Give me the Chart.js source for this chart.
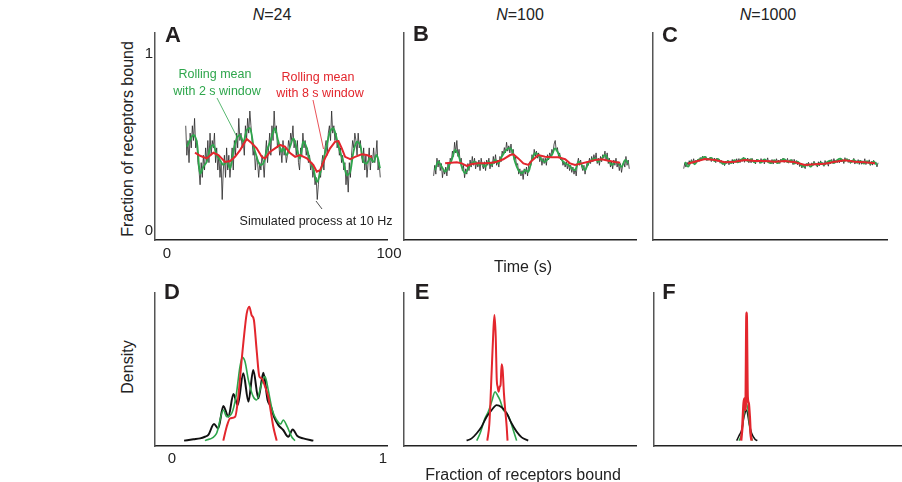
<!DOCTYPE html>
<html>
<head>
<meta charset="utf-8">
<script src="https://cdn.jsdelivr.net/npm/chart.js@4.4.0/dist/chart.umd.min.js"></script>
<style>
body { margin: 0; width: 902px; height: 482px; background: #fff; position: relative; overflow: hidden;
       font-family: "Liberation Sans", Arial, sans-serif; color: #222; }
canvas { position: absolute; }
.t { position: absolute; white-space: nowrap; line-height: 1; transform: translate(-50%, -50%); }
.rot { transform: translate(-50%, -50%) rotate(-90deg); }
.letter { font-weight: bold; font-size: 22px; color: #231f20; }
.title { font-size: 16px; }
.tick { font-size: 15px; }
.axt { font-size: 16px; }
.note { font-size: 12.5px; }
.green { color: #2ea64c; }
.red { color: #e3262d; }
svg { position: absolute; left: 0; top: 0; }
</style>
</head>
<body>
<canvas id="cA"></canvas>
<canvas id="cB"></canvas>
<canvas id="cC"></canvas>
<canvas id="cD"></canvas>
<canvas id="cE"></canvas>
<canvas id="cF"></canvas>

<div class="t title" style="left:272px;top:15px"><i>N</i>=24</div>
<div class="t title" style="left:520px;top:15px"><i>N</i>=100</div>
<div class="t title" style="left:768px;top:15px"><i>N</i>=1000</div>

<div class="t letter" style="left:173px;top:35px">A</div>
<div class="t letter" style="left:421px;top:34px">B</div>
<div class="t letter" style="left:670px;top:35px">C</div>
<div class="t letter" style="left:172px;top:292px">D</div>
<div class="t letter" style="left:422px;top:292px">E</div>
<div class="t letter" style="left:669px;top:292px">F</div>

<div class="t tick" style="left:149px;top:52px">1</div>
<div class="t tick" style="left:149px;top:229px">0</div>
<div class="t tick" style="left:167px;top:252px">0</div>
<div class="t tick" style="left:389px;top:252px">100</div>
<div class="t tick" style="left:172px;top:457px">0</div>
<div class="t tick" style="left:383px;top:457px">1</div>

<div class="t axt rot" style="left:128px;top:139px">Fraction of receptors bound</div>
<div class="t axt rot" style="left:128px;top:367px">Density</div>
<div class="t axt" style="left:523px;top:267px">Time (s)</div>
<div class="t axt" style="left:523px;top:475px">Fraction of receptors bound</div>

<div class="t note green" style="left:215px;top:74px">Rolling mean</div>
<div class="t note green" style="left:217px;top:91px">with 2 s window</div>
<div class="t note red" style="left:318px;top:77px">Rolling mean</div>
<div class="t note red" style="left:320px;top:93px">with 8 s window</div>
<div class="t note" style="left:316px;top:221px">Simulated process at 10 Hz</div>

<svg width="902" height="482">
  <line x1="217" y1="98" x2="237" y2="137" stroke="#2ea64c" stroke-width="0.8"/>
  <line x1="313" y1="100" x2="323.5" y2="149" stroke="#e3262d" stroke-width="0.8"/>
  <line x1="316" y1="201" x2="322" y2="209" stroke="#222" stroke-width="0.8"/>
</svg>

<script>
// series colours
const BLACK = 'rgba(40,40,40,0.8)';
const GREEN = '#2ea64c';
const RED = '#e3262d';

// ---- time series: simulated process (receptor counts, sampled every 0.5 s) ----
const sizeA = 24, startA = 8, stepA = 0.5;
const countsA = [14,10,12,9,13,11,14,12,15,11,
  12,9,8,6,9,7,10,8,11,9,
  12,9,13,10,12,11,13,9,11,8,
  10,7,9,4,8,10,7,11,8,10,
  7,9,11,8,12,10,13,11,15,12,
  13,11,12,10,14,12,15,13,16,14,
  12,10,11,8,10,9,7,9,8,10,
  9,7,10,12,9,11,13,10,14,12,
  16,13,14,11,12,10,11,9,12,10,
  11,9,10,12,11,13,12,14,11,12,
  10,12,9,8,11,10,13,11,12,10,
  11,9,10,8,9,7,8,6,7,4,
  6,8,7,9,10,8,11,12,10,13,
  14,12,16,13,14,12,13,11,12,10,
  11,9,10,8,9,6,8,5,9,7,
  10,12,11,13,12,10,13,11,12,10,
  9,11,8,10,7,9,11,8,10,9,
  11,9,10,12,8,9,7];

const sizeB = 100, startB = 7.5, stepB = 0.5;
const countsB = [30,36,31,40,35,39,33,37,29,34,
  31,35,30,37,33,40,38,44,41,49,
  43,50,41,45,38,40,33,36,29,34,
  31,37,33,39,35,41,36,40,34,38,
  35,39,33,40,36,34,38,33,39,36,
  40,34,38,35,41,37,42,36,39,35,
  41,38,44,42,46,43,49,44,47,43,
  48,42,45,39,41,36,37,31,34,30,
  33,28,34,31,35,30,36,38,36,42,
  39,45,41,44,40,43,38,41,36,40,
  37,40,36,42,39,43,41,45,43,48,
  50,44,46,41,43,39,40,36,38,35,
  38,34,37,33,36,32,35,31,34,30,
  37,40,36,39,35,33,36,31,35,38,
  36,40,37,41,38,42,39,43,37,40,
  36,41,38,42,40,44,39,43,37,40,
  35,38,34,39,36,40,35,38,33,37,
  32,36,38,35,41,36,39,34];

const sizeC = 1000, startC = 8, stepC = 0.5;
const countsC = [341,372,350,377,361,386,368,392,372,397,
  372,389,378,395,382,404,386,411,392,401,
  410,386,401,390,406,381,396,388,401,375,
  400,381,395,372,388,365,381,358,384,370,
  388,363,385,373,393,368,390,377,397,375,
  398,375,394,382,405,377,398,386,401,374,
  395,374,399,379,390,368,394,378,388,371,
  398,377,393,368,389,380,402,374,387,370,
  393,367,387,376,397,378,390,370,395,380,
  401,376,388,381,399,372,387,376,393,364,
  394,371,387,363,380,353,373,345,367,353,
  341,370,355,377,359,350,374,357,383,361,
  371,350,380,358,385,364,376,354,387,368,
  375,355,384,369,393,371,398,378,389,374,
  394,374,400,379,392,370,403,384,396,376,
  393,371,388,377,399,367,387,376,392,365,
  389,366,385,374,397,364,382,371,391,359,
  382,361,388,366,379,351,374];

// ---- rolling means: [time (s), fraction bound] ----
const green2sA = [[8.5,0.465],[11.4,0.531],[13.0,0.493],[14.5,0.315],[16.0,0.352],[17.5,0.380],[19.0,0.456],[20.5,0.475],
  [22.0,0.418],[23.5,0.390],[25.0,0.362],[26.6,0.380],[28.1,0.343],[29.5,0.437],[31.1,0.512],[32.6,0.531],[34.1,0.493],
  [35.6,0.559],[37.1,0.569],[38.6,0.475],[40.1,0.408],[41.6,0.362],[43.1,0.371],[44.7,0.446],[46.2,0.493],[47.6,0.550],
  [48.4,0.569],[49.9,0.493],[51.4,0.437],[52.2,0.456],[53.7,0.418],[55.2,0.465],[56.7,0.512],[58.2,0.456],[59.7,0.399],
  [61.2,0.493],[62.8,0.456],[64.3,0.380],[65.7,0.343],[67.3,0.267],[68.8,0.315],[70.3,0.390],[71.8,0.475],[73.3,0.550],
  [74.8,0.569],[76.3,0.512],[77.8,0.437],[79.3,0.380],[80.9,0.305],[82.4,0.324],[83.9,0.437],[85.4,0.493],[86.9,0.475],
  [88.4,0.380],[89.9,0.371],[91.4,0.399],[92.9,0.380],[94.4,0.418],[95.9,0.343]];
const red8sA = [[12.2,0.431],[14.5,0.414],[17.5,0.399],[20.5,0.431],[22.8,0.418],[25.8,0.379],[28.1,0.384],[30.3,0.408],
  [32.6,0.446],[35.6,0.508],[37.9,0.484],[40.1,0.456],[42.4,0.408],[43.9,0.399],[46.2,0.437],[48.4,0.456],[50.7,0.475],
  [52.9,0.465],[55.2,0.429],[57.5,0.408],[59.7,0.418],[62.8,0.399],[65.7,0.362],[67.3,0.324],[68.8,0.333],[71.0,0.399],
  [73.3,0.456],[75.6,0.493],[77.1,0.497],[78.6,0.456],[80.1,0.408],[82.4,0.395],[84.6,0.408],[87.6,0.422],[89.9,0.418],
  [92.2,0.407]];

const green2sB = [[8.1,0.333],[9.6,0.380],[11.2,0.352],[12.7,0.324],[14.2,0.352],[15.7,0.390],[17.2,0.446],[18.7,0.418],
  [20.2,0.352],[21.7,0.315],[23.2,0.343],[24.8,0.371],[26.2,0.380],[27.7,0.362],[29.3,0.371],[30.8,0.352],[32.3,0.380],
  [33.8,0.362],[35.3,0.390],[36.8,0.371],[38.3,0.408],[39.8,0.437],[41.3,0.456],[42.9,0.446],[44.3,0.380],[45.8,0.333],
  [47.4,0.315],[48.9,0.333],[50.4,0.324],[51.9,0.390],[53.4,0.428],[54.9,0.418],[56.4,0.390],[57.9,0.380],[59.4,0.399],
  [61.0,0.418],[62.4,0.456],[63.9,0.428],[65.5,0.390],[67.0,0.371],[68.5,0.362],[70.0,0.343],[71.5,0.333],[73.0,0.380],
  [74.5,0.362],[76.0,0.333],[77.5,0.371],[79.0,0.390],[80.5,0.399],[82.0,0.380],[83.6,0.399],[85.1,0.418],[86.6,0.390],
  [88.1,0.362],[89.6,0.380],[91.1,0.371],[92.6,0.352],[94.1,0.390],[95.6,0.371]];
const red8sB = [[12.7,0.371],[15.4,0.375],[18.0,0.377],[20.2,0.371],[22.5,0.356],[24.8,0.367],[27.7,0.371],[30.8,0.371],
  [33.8,0.375],[36.1,0.380],[39.0,0.394],[42.1,0.418],[43.6,0.422],[45.8,0.399],[48.1,0.371],[50.4,0.362],[51.9,0.386],
  [54.9,0.418],[57.9,0.408],[60.9,0.405],[63.9,0.405],[67.0,0.394],[69.2,0.371],[71.5,0.362],[74.5,0.371],[77.5,0.380],
  [80.5,0.390],[83.6,0.394],[86.6,0.386],[89.6,0.379],[91.9,0.375]];

const green2sC = [[8.5,0.378],[10,0.352],[11.5,0.382],[13,0.366],[14.5,0.390],[16,0.398],[17.5,0.408],[19,0.392],
  [20.5,0.402],[22,0.384],[23.5,0.396],[25,0.376],[26.5,0.368],[28,0.384],[29.5,0.372],[31,0.389],[32.5,0.376],
  [34,0.392],[35.5,0.399],[37,0.384],[38.5,0.395],[40,0.376],[41.5,0.390],[43,0.375],[44.5,0.393],[46,0.380],
  [47.5,0.372],[49,0.389],[50.5,0.372],[52,0.386],[53.5,0.395],[55,0.378],[56.5,0.389],[58,0.370],[59.5,0.381],
  [61,0.362],[62.5,0.352],[64,0.366],[65.5,0.352],[67,0.372],[68.5,0.360],[70,0.375],[71.5,0.362],[73,0.378],
  [74.5,0.386],[76,0.372],[77.5,0.390],[79,0.398],[80.5,0.383],[82,0.394],[83.5,0.377],[85,0.391],[86.5,0.374],
  [88,0.385],[89.5,0.369],[91,0.384],[92.5,0.367],[94,0.380],[95.5,0.362]];
const red8sC = [[10.0,0.370],[13.1,0.380],[17.6,0.395],[22.2,0.390],[26.7,0.377],[31.2,0.380],[35.7,0.390],[40.3,0.384],
  [44.8,0.384],[49.3,0.380],[53.8,0.384],[58.4,0.377],[62.9,0.362],[67.4,0.366],[71.9,0.369],[76.5,0.380],[81.0,0.388],
  [85.5,0.380],[90.0,0.377],[94.6,0.371]];

// ---- densities: [fraction bound, density (arbitrary units)] ----
const densBlackD = [[0.057,0.6],[0.101,1.5],[0.133,2.1],[0.156,3.2],[0.172,4.4],[0.199,11.7],[0.219,8.8],[0.243,23.8],
  [0.267,16.6],[0.291,31.8],[0.311,24.4],[0.338,45.6],[0.362,26.7],[0.385,47.8],[0.409,28.9],[0.433,46],[0.453,27.8],
  [0.469,23.3],[0.483,16.6],[0.504,11],[0.527,7.7],[0.551,3.2],[0.572,8.1],[0.594,3.7],[0.622,2.1],[0.670,0.6]];
const densGreenD = [[0.156,0.6],[0.211,5.5],[0.243,21.1],[0.259,16.6],[0.283,18.9],[0.303,30],[0.322,50],[0.333,56.3],
  [0.346,53.4],[0.362,41.1],[0.385,30],[0.401,27.8],[0.425,38.9],[0.441,43.4],[0.456,34.5],[0.475,21.1],[0.496,14.4],
  [0.515,11.7],[0.527,14.4],[0.546,9.9],[0.567,3.2],[0.583,0.6]];
const densRedD = [[0.243,0.6],[0.259,9.9],[0.275,15.5],[0.299,16.6],[0.314,30],[0.330,54.5],[0.346,76.8],[0.354,85.7],
  [0.366,90.2],[0.377,84.6],[0.388,81.3],[0.401,61.2],[0.414,43.4],[0.425,42.3],[0.441,36.7],[0.456,30],[0.467,21.1],
  [0.480,9.9],[0.496,0.6]];

const densBlackE = [[0.216,0.6],[0.240,2.1],[0.264,5.5],[0.287,9.9],[0.311,16.6],[0.335,21.1],[0.358,24.4],[0.382,22.9],
  [0.406,18.9],[0.429,12.2],[0.453,6.6],[0.477,2.8],[0.508,0.6]];
const densGreenE = [[0.264,0.6],[0.280,5.5],[0.303,15.5],[0.319,20],[0.335,26.7],[0.351,33.3],[0.362,31],[0.374,27.8],
  [0.390,21.1],[0.406,18.9],[0.422,14.4],[0.437,7.7],[0.453,0.6]];
const densRedE = [[0.314,0.6],[0.324,12.2],[0.335,47.8],[0.343,74.6],[0.348,84.6],[0.354,70.1],[0.359,41.1],[0.363,36.7],
  [0.368,33.3],[0.373,36.7],[0.377,37.8],[0.382,51.6],[0.387,47.8],[0.393,32.2],[0.399,21.1],[0.406,9.9],[0.410,0.6]];

const densBlackF = [[0.311,0.6],[0.324,4.4],[0.335,7.7],[0.346,16.6],[0.358,21.1],[0.370,12.2],[0.382,5.5],[0.398,1.5],
  [0.409,0.6]];
const densGreenF = [[0.322,0.6],[0.335,5.5],[0.346,18.9],[0.355,25.5],[0.365,21.1],[0.374,7.7],[0.385,0.6]];
const densRedF = [[0.332,0.6],[0.338,9.9],[0.344,25.5],[0.349,28.9],[0.353,21.1],[0.358,86.2],[0.363,30],[0.368,25.5],
  [0.373,16.6],[0.377,5.5],[0.382,0.6]];

// helpers
function pairs(arr) {
  return arr.map(p => ({ x: p[0], y: p[1] }));
}
function counts(arr, start, step, n) {
  return arr.map((c, i) => ({ x: start + i * step, y: c / n }));
}

function lineSet(data, color, width, extra) {
  return Object.assign({ data: data, borderColor: color, borderWidth: width, pointRadius: 0, fill: false }, extra || {});
}

// box = plot area in page pixels
function makeChart(id, box, xr, yr, datasets) {
  const cv = document.getElementById(id);
  cv.width = box.w + 3;
  cv.height = box.h + 3;
  cv.style.left = (box.x - 3) + 'px';
  cv.style.top = box.y + 'px';
  new Chart(cv, {
    type: 'line',
    data: { datasets: datasets },
    options: {
      responsive: false,
      animation: false,
      events: [],
      layout: { padding: { left: 3, bottom: 3, top: 0, right: 0 } },
      plugins: { legend: { display: false }, tooltip: { enabled: false } },
      scales: {
        x: {
          type: 'linear', min: xr[0], max: xr[1],
          ticks: { display: false },
          grid: { display: false, drawTicks: false },
          border: { display: true, color: '#222', width: 1.5 }
        },
        y: {
          type: 'linear', min: yr[0], max: yr[1],
          ticks: { display: false },
          grid: { display: false, drawTicks: false },
          border: { display: true, color: '#555', width: 1.5 }
        }
      }
    }
  });
}

const timeRange = [-5.9, 99.5];
const fracRange = [-0.062, 1.113];
const densRange = [-3, 100];

makeChart('cA', { x: 155, y: 32, w: 233, h: 208 }, timeRange, fracRange, [
  lineSet(pairs(red8sA), RED, 2),
  lineSet(pairs(green2sA), GREEN, 1.8, { tension: 0.35 }),
  lineSet(counts(countsA, startA, stepA, sizeA), BLACK, 1)
]);
makeChart('cB', { x: 404, y: 32, w: 233, h: 208 }, timeRange, fracRange, [
  lineSet(pairs(red8sB), RED, 2),
  lineSet(pairs(green2sB), GREEN, 1.8, { tension: 0.35 }),
  lineSet(counts(countsB, startB, stepB, sizeB), BLACK, 1)
]);
makeChart('cC', { x: 653, y: 32, w: 235, h: 208 }, [-5.9, 100.5], fracRange, [
  lineSet(pairs(red8sC), RED, 2),
  lineSet(pairs(green2sC), GREEN, 1.8, { tension: 0.35 }),
  lineSet(counts(countsC, startC, stepC, sizeC), BLACK, 1)
]);

makeChart('cD', { x: 155, y: 292, w: 233, h: 154 }, [-0.081, 1.024], densRange, [
  lineSet(pairs(densRedD), RED, 2, { cubicInterpolationMode: 'monotone' }),
  lineSet(pairs(densGreenD), GREEN, 1.6, { cubicInterpolationMode: 'monotone' }),
  lineSet(pairs(densBlackD), '#111', 2, { cubicInterpolationMode: 'monotone' })
]);
makeChart('cE', { x: 404, y: 292, w: 233, h: 154 }, [-0.081, 1.024], densRange, [
  lineSet(pairs(densRedE), RED, 2, { cubicInterpolationMode: 'monotone' }),
  lineSet(pairs(densBlackE), '#111', 1.8, { cubicInterpolationMode: 'monotone' }),
  lineSet(pairs(densGreenE), GREEN, 1.6, { cubicInterpolationMode: 'monotone' })
]);
makeChart('cF', { x: 654, y: 292, w: 248, h: 154 }, [-0.081, 1.095], densRange, [
  lineSet(pairs(densRedF), RED, 2.5, { cubicInterpolationMode: 'monotone' }),
  lineSet(pairs(densGreenF), GREEN, 1.5, { cubicInterpolationMode: 'monotone' }),
  lineSet(pairs(densBlackF), '#111', 1.5, { cubicInterpolationMode: 'monotone' })
]);
</script>
</body>
</html>
